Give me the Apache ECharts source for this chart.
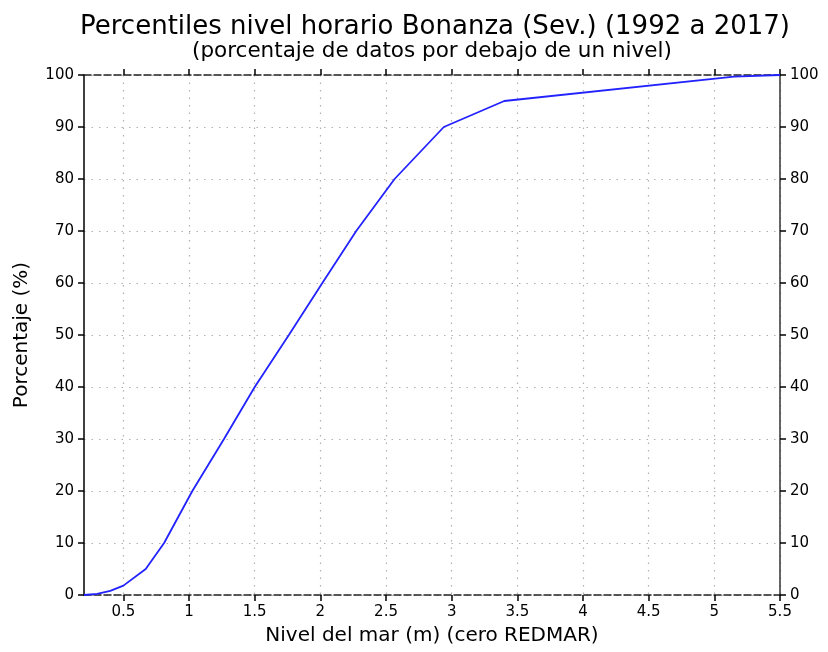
<!DOCTYPE html>
<html>
<head>
<meta charset="utf-8">
<script src="https://cdn.jsdelivr.net/npm/echarts@6/dist/echarts.min.js"></script>
<style>html,body{margin:0;padding:0;background:#fff}#c{width:828px;height:652px}</style>
</head>
<body>
<div id="c"></div>
<script>
// Nivel del mar (m)
const levels = [0.2, 0.3, 0.4, 0.5, 0.67, 0.81, 1.025, 1.266, 1.5, 1.76, 2.015, 2.273, 2.565, 2.94, 3.4, 5.15, 5.5];
// Porcentaje (%)
const percents = [0, 0.2, 0.8, 1.8, 5, 10, 20, 30, 40, 50, 60, 70, 80, 90, 95, 99.7, 100];
const xTicks = [0.5, 1, 1.5, 2, 2.5, 3, 3.5, 4, 4.5, 5, 5.5];
const yTicks = [0, 10, 20, 30, 40, 50, 60, 70, 80, 90, 100];
const titleText = 'Percentiles nivel horario Bonanza (Sev.) (1992 a 2017)';
const subtitleText = '(porcentaje de datos por debajo de un nivel)';
const xName = 'Nivel del mar (m) (cero REDMAR)';
const yName = 'Porcentaje (%)';

const F = 'DejaVu Sans';
const gridLine = {show: true, lineStyle: {color: '#b0b0b0', type: [1.5, 6], width: 1.2}};
const chart = echarts.init(document.getElementById('c'));
chart.setOption({
  animation: false,
  title: [
    {text: titleText, left: 75, top: 9, textStyle: {fontFamily: F, fontSize: 26, fontWeight: 'normal', color: '#000'}},
    {text: subtitleText, left: 187, top: 35, textStyle: {fontFamily: F, fontSize: 21.5, fontWeight: 'normal', color: '#000'}}
  ],
  grid: {left: 84, right: 48, top: 75, bottom: 57},
  xAxis: [
    {type: 'value', min: 0.2, max: 5.5, position: 'bottom',
     name: xName, nameLocation: 'middle', nameGap: 31,
     nameTextStyle: {fontFamily: F, fontSize: 20, color: '#000'},
     axisLine: {show: true, onZero: false, lineStyle: {color: '#222', type: [7, 3], width: 1.5}},
     axisTick: {show: true, inside: false, length: 6, customValues: xTicks, lineStyle: {color: '#000', width: 1.5}},
     axisLabel: {customValues: xTicks, fontFamily: F, fontSize: 15, color: '#000', margin: 10},
     splitLine: gridLine},
    {type: 'value', min: 0.2, max: 5.5, position: 'top',
     axisLine: {show: true, onZero: false, lineStyle: {color: '#222', type: [7, 3], width: 1.5}},
     axisTick: {show: true, inside: false, length: 6, customValues: xTicks, lineStyle: {color: '#000', width: 1.5}},
     axisLabel: {show: false},
     splitLine: {show: false}}
  ],
  yAxis: [
    {type: 'value', min: 0, max: 100, interval: 10, position: 'left',
     name: yName, nameLocation: 'middle', nameGap: 52, nameRotate: 90,
     nameTextStyle: {fontFamily: F, fontSize: 20, color: '#000'},
     axisLine: {show: true, onZero: false, lineStyle: {color: '#000', width: 1.5}},
     axisTick: {show: true, inside: false, length: 6, lineStyle: {color: '#000', width: 1.5}},
     axisLabel: {fontFamily: F, fontSize: 15, color: '#000', margin: 10},
     splitLine: gridLine},
    {type: 'value', min: 0, max: 100, interval: 10, position: 'right',
     axisLine: {show: true, onZero: false, lineStyle: {color: '#333', width: 1.5}},
     axisTick: {show: true, inside: false, length: 6, lineStyle: {color: '#000', width: 1.5}},
     axisLabel: {fontFamily: F, fontSize: 15, color: '#000', margin: 10},
     splitLine: {show: false}}
  ],
  series: [{
    type: 'line', xAxisIndex: 0, yAxisIndex: 0,
    data: levels.map((v, i) => [v, percents[i]]),
    showSymbol: false, symbol: 'none',
    lineStyle: {color: '#2222ff', width: 1.8}
  }]
});
</script>
</body>
</html>
